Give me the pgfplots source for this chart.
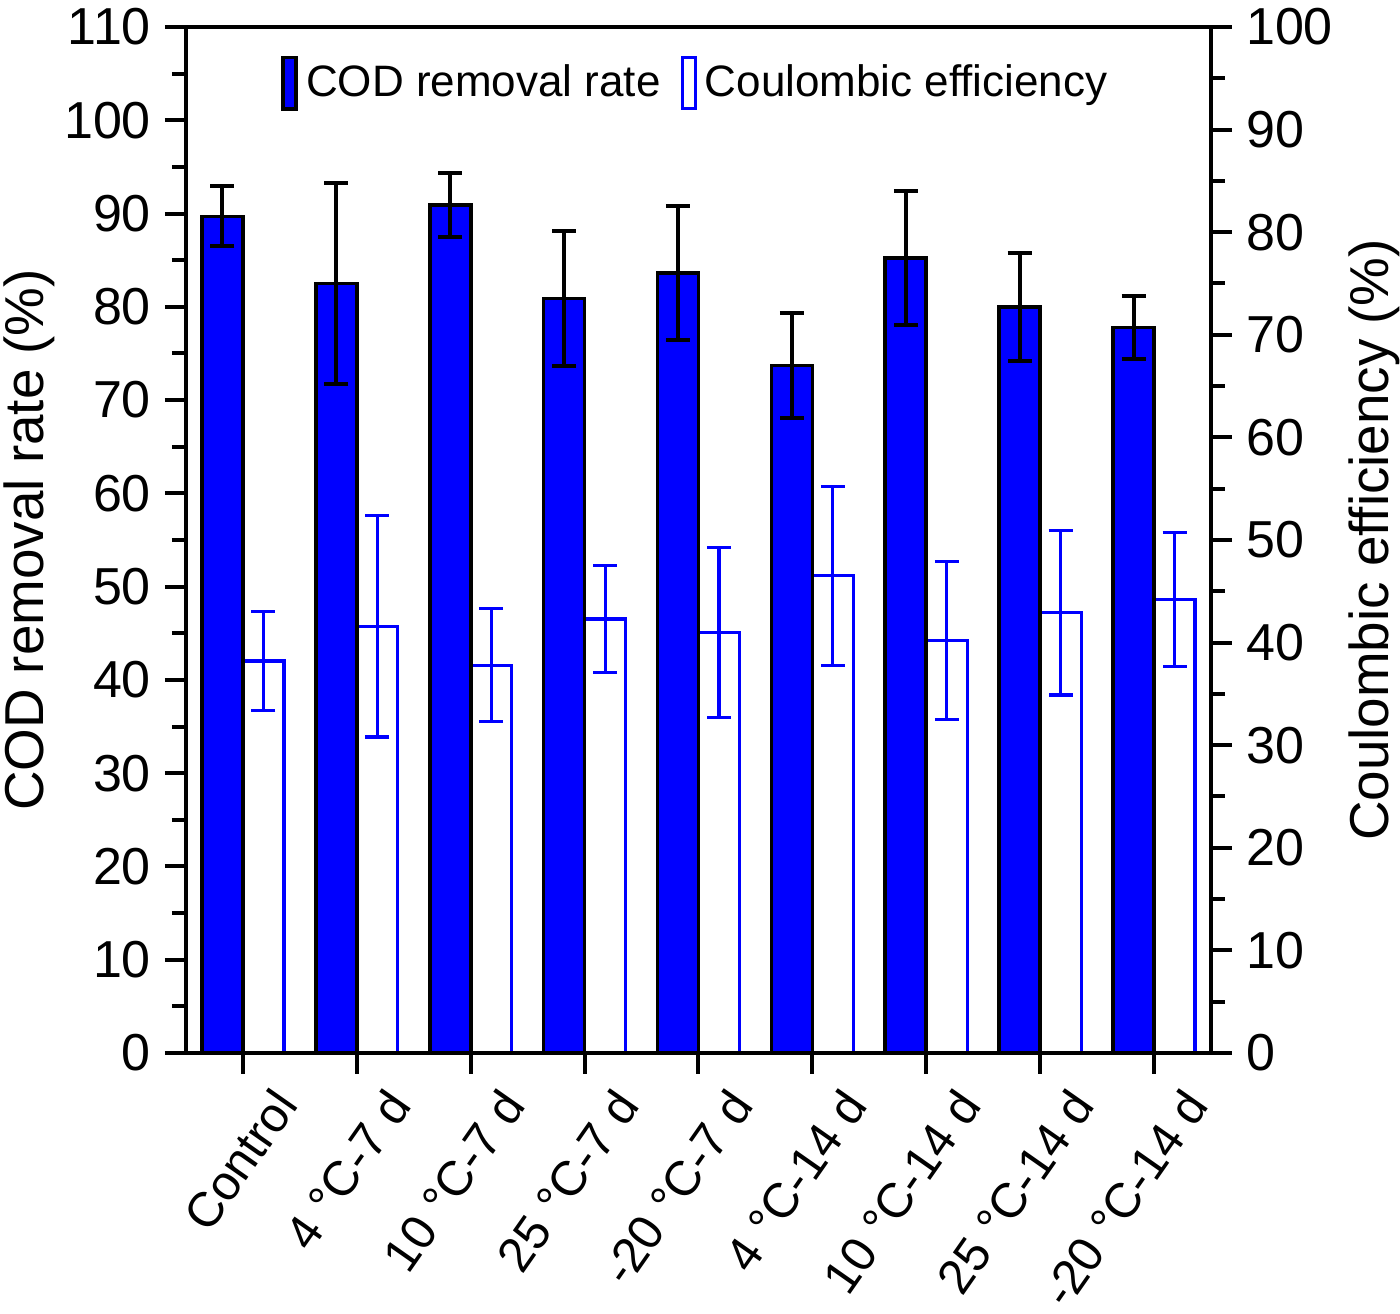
\documentclass[border=0pt]{standalone}
\usepackage{fontspec}
\setmainfont{Liberation Sans}
\usepackage{pgfplots}
\pgfplotsset{compat=1.18}
\usepackage{pgfplotstable}

% xc / xe: bar centres of the two series (category index -/+ 0.18)
\pgfplotstableread{
x xc xe cod codErr ce ceErr
0 -0.18 0.18 89.7 3.2 38.2 4.8
1 0.82 1.18 82.5 10.8 41.6 10.8
2 1.82 2.18 90.9 3.4 37.8 5.5
3 2.82 3.18 80.9 7.2 42.3 5.2
4 3.82 4.18 83.6 7.2 41.0 8.3
5 4.82 5.18 73.7 5.6 46.5 8.7
6 5.82 6.18 85.2 7.2 40.2 7.7
7 6.82 7.18 80.0 5.8 42.9 8.0
8 7.82 8.18 77.8 3.4 44.2 6.5
}\datatable

\definecolor{cblue}{RGB}{0,0,255}

\pgfplotsset{
  common/.style={
    width=256.25pt, height=256.5pt, scale only axis,
    xmin=-0.5, xmax=8.5,
    /pgf/number format/assume math mode=true,
    tick label style={font=\fontsize{13}{15}\selectfont},
    label style={font=\fontsize{13.7}{16}\selectfont},
    tick align=outside,
    major tick length=5.25pt, minor tick length=3.5pt,
    tick style={black, line width=1pt},
    axis line style={line width=1.1pt},
  },
  barlegend/.style={legend image code/.code={\draw[##1] (0pt,-6.4pt) rectangle (3.25pt,6.4pt);}},
}

\begin{document}
\begin{tikzpicture}
\path[use as bounding box] (-46.5pt,-65.25pt) rectangle (303.5pt,263.25pt);

\begin{axis}[common,
  axis y line*=right, axis x line=none,
  ymin=0, ymax=100, ytick={0,10,...,100}, minor y tick num=1,
  ylabel={Coulombic efficiency (\%)}, ylabel shift=-3pt,
]
\addplot[ybar, bar width=0.36, bar shift=0, draw=cblue, fill=white, line width=0.8pt,
  error bars/.cd, y dir=both, y explicit,
  error bar style={cblue, line width=0.8pt},
  error mark options={rotate=90, mark size=3pt, cblue, line width=0.8pt}]
  table[x=xe, y=ce, y error=ceErr] {\datatable};
\end{axis}

\begin{axis}[common,
  ymin=0, ymax=110, ytick={0,10,...,110}, minor y tick num=1,
  xtick={0,...,8},
  xticklabels={Control, 4 °C-7 d, 10 °C-7 d, 25 °C-7 d, -20 °C-7 d, 4 °C-14 d, 10 °C-14 d, 25 °C-14 d, -20 °C-14 d},
  xtick pos=bottom, ytick pos=left,
  xticklabel style={font=\fontsize{12.2}{15}\selectfont, xshift=6pt, yshift=2pt, rotate=55, anchor=north east},
  ylabel={COD removal rate (\%)}, ylabel shift=-4.5pt,
  legend columns=2,
  legend style={at={(0.5,1)}, anchor=north, yshift=-5pt, draw=none, fill=none,
    font=\fontsize{11}{13}\selectfont,
    /tikz/every even column/.append style={column sep=3pt}},
]
\addplot[ybar, bar width=0.36, bar shift=0, draw=black, fill=cblue, line width=0.9pt, barlegend,
  error bars/.cd, y dir=both, y explicit,
  error bar style={black, line width=1pt},
  error mark options={rotate=90, mark size=3pt, black, line width=1pt}]
  table[x=xc, y=cod, y error=codErr] {\datatable};
\addlegendentry{COD removal rate}
\addlegendimage{draw=cblue, fill=white, line width=0.8pt, barlegend}
\addlegendentry{Coulombic efficiency}
\end{axis}
\end{tikzpicture}
\end{document}
